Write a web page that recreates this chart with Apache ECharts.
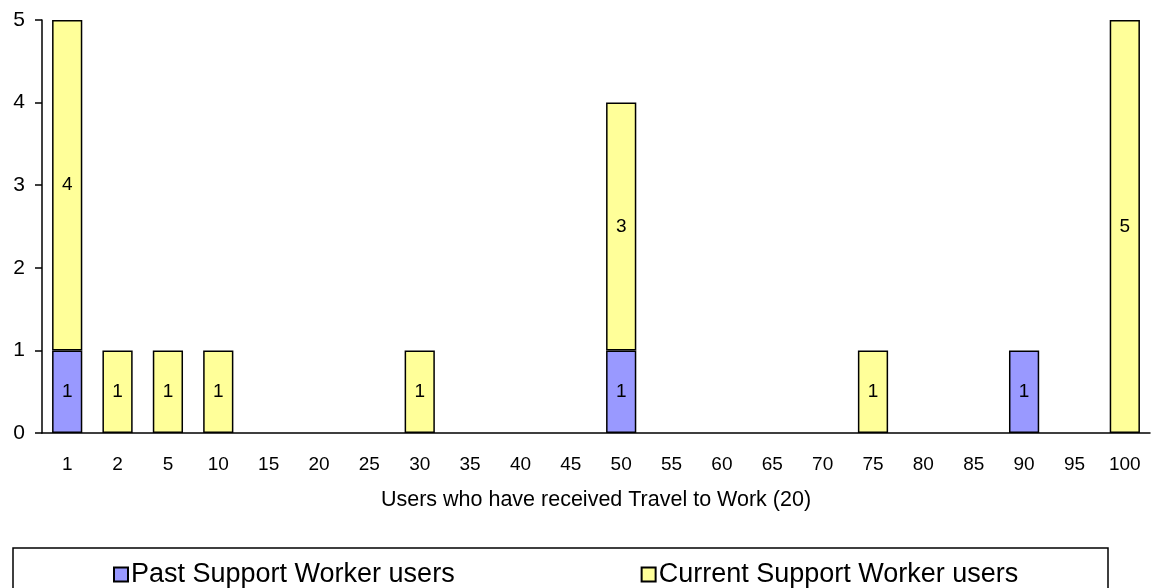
<!DOCTYPE html>
<html>
<head>
<meta charset="utf-8">
<script src="https://cdn.jsdelivr.net/npm/echarts@6/dist/echarts.min.js"></script>
<style>
  html, body { margin: 0; padding: 0; background: #fff; }
  #chart { width: 1152px; height: 588px; }
</style>
</head>
<body>
<div id="chart"></div>
<script>
const categories = ['1', '2', '5', '10', '15', '20', '25', '30', '35', '40', '45', '50', '55', '60', '65', '70', '75', '80', '85', '90', '95', '100']
const pastUsers =    [1, null, null, null, null, null, null, null, null, null, null, 1, null, null, null, null, null, null, null, 1, null, null]
const currentUsers = [4, 1, 1, 1, null, null, null, 1, null, null, null, 3, null, null, null, null, 1, null, null, null, null, 5]
const yTicks = { min: 0, max: 5, interval: 1 }

const FONT = '"Liberation Sans", Arial, sans-serif'
const COLORS = { past: '#9999ff', current: '#ffff99', line: '#000' }

const chart = echarts.init(document.getElementById('chart'), null, { renderer: 'canvas' })

const barLabel = {
  show: true,
  position: 'inside',
  color: '#000',
  fontSize: 19,
  fontFamily: FONT
}

chart.setOption({
  backgroundColor: '#fff',
  animation: false,
  textStyle: { fontFamily: FONT, color: '#000' },
  grid: { left: 42, right: 2, top: 20, bottom: 155, containLabel: false },
  xAxis: {
    type: 'category',
    data: categories,
    name: 'Users who have received Travel to Work (20)',
    nameLocation: 'middle',
    nameGap: 56,
    nameTextStyle: { fontSize: 21.5, color: '#000', fontFamily: FONT },
    axisLine: { lineStyle: { color: COLORS.line, width: 1.5 } },
    axisTick: { show: false },
    axisLabel: { color: '#000', fontSize: 19, margin: 22, interval: 0, fontFamily: FONT }
  },
  yAxis: {
    type: 'value',
    min: yTicks.min,
    max: yTicks.max,
    interval: yTicks.interval,
    axisLine: { show: true, lineStyle: { color: COLORS.line, width: 1.5 } },
    axisTick: { show: true, length: 7, lineStyle: { color: COLORS.line, width: 1.5 } },
    axisLabel: { color: '#000', fontSize: 21, margin: 17, fontFamily: FONT },
    splitLine: { show: false }
  },
  legend: {
    left: 108,
    top: 556,
    itemGap: 186,
    itemWidth: 14,
    itemHeight: 14,
    icon: 'rect',
    textStyle: { fontSize: 27, color: '#000', fontFamily: FONT, padding: [0, 0, 0, -2] },
    data: ['Past Support Worker users', 'Current Support Worker users']
  },
  graphic: [{
    type: 'rect',
    shape: { x: 13, y: 548, width: 1095, height: 50 },
    style: { fill: 'none', stroke: '#000', lineWidth: 1.5 },
    silent: true
  }],
  series: [
    {
      name: 'Past Support Worker users',
      type: 'bar',
      stack: 'users',
      data: pastUsers,
      barWidth: '60%',
      itemStyle: { color: COLORS.past, borderColor: COLORS.line, borderWidth: 1.5 },
      label: barLabel
    },
    {
      name: 'Current Support Worker users',
      type: 'bar',
      stack: 'users',
      data: currentUsers,
      barWidth: '60%',
      itemStyle: { color: COLORS.current, borderColor: COLORS.line, borderWidth: 1.5 },
      label: barLabel
    }
  ]
})

window.addEventListener('resize', () => chart.resize())
</script>
</body>
</html>
